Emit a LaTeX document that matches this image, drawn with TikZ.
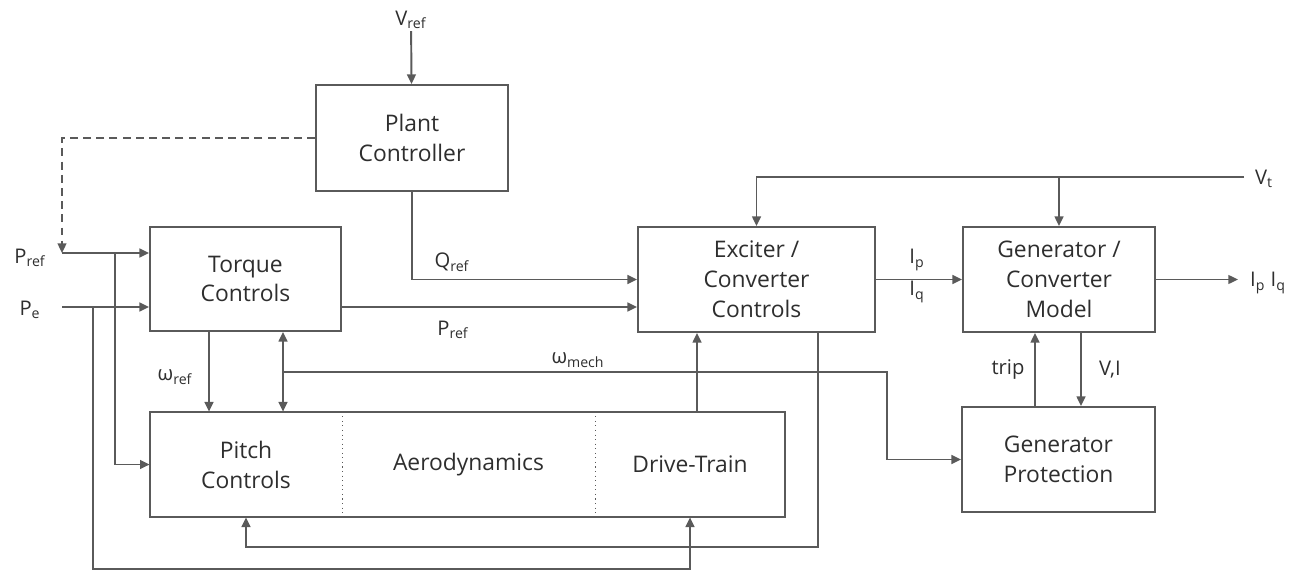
\documentclass[tikz,border=0pt]{standalone}
\usepackage{fontspec}
\setmainfont{Open Sans}
\usetikzlibrary{arrows.meta, positioning, calc}
\definecolor{linegray}{HTML}{5A5A5A}
\definecolor{textgray}{HTML}{2E2E2E}
\newcommand{\lo}[1]{\textsubscript{#1}}
\tikzset{
    block/.style={draw=linegray, line width=1.1pt, fill=white, align=center, text=textgray, font=\fontsize{13}{17}\selectfont, inner sep=2pt},
    cell/.style={align=center, text=textgray, font=\fontsize{13}{17}\selectfont, inner sep=2pt, minimum height=2.1cm},
    arrow/.style={-{Triangle[length=5.5pt, width=5pt]}, line width=1.1pt, linegray},
    dasharrow/.style={arrow, dash pattern=on 4.5pt off 3pt},
    dblarrow/.style={{Triangle[length=5.5pt, width=5pt]}-{Triangle[length=5.5pt, width=5pt]}, line width=1.1pt, linegray},
    lbl/.style={text=textgray, font=\fontsize{11.5}{14}\selectfont, inner sep=1pt}
}

\begin{document}
\begin{tikzpicture}[x=0.02cm, y=-0.02cm]
    \useasboundingbox (0,0) rectangle (1291,571);

    % Define blocks
    \node [block, minimum width=3.84cm, minimum height=2.12cm] (plant) at (412,138) {Plant\\ Controller};
    \node [block, minimum width=3.82cm, minimum height=2.08cm] (torque) at (245.5,279) {Torque\\ Controls};
    \node [block, minimum width=4.74cm, minimum height=2.1cm] (exciter) at (756.5,279.5) {Exciter /\\ Converter\\ Controls};
    \node [block, minimum width=3.84cm, minimum height=2.1cm] (genmod) at (1059,279.5) {Generator /\\ Converter\\ Model};
    \node [block, minimum width=3.86cm, minimum height=2.1cm] (genprot) at (1058.5,459.5) {Generator\\ Protection};

    % Turbine block with three parts
    \node [cell, minimum width=3.84cm] (pitch) at (246,464.5) {Pitch\\ Controls};
    \node [cell, minimum width=5.06cm] (aero) at (468.5,464.5) {Aerodynamics};
    \node [cell, minimum width=3.8cm] (drive) at (690,464.5) {Drive-Train};
    \draw [linegray, line width=1.1pt] (pitch.north west) rectangle (drive.south east);
    \draw [linegray, line width=0.6pt, dotted] (pitch.north east) -- (pitch.south east);
    \draw [linegray, line width=0.6pt, dotted] (aero.north east) -- (aero.south east);

    % Signal labels
    \node [lbl] (vreflbl) at (411,20) {V\lo{ref}};
    \node [lbl] (preflbl) at (30,258) {P\lo{ref}};
    \node [lbl] (pelbl) at (30,310) {P\lo{e}};
    \node [lbl] (qreflbl) at (452,262) {Q\lo{ref}};
    \node [lbl] (pref2lbl) at (453,330) {P\lo{ref}};
    \node [lbl] (wreflbl) at (175,377) {ω\lo{ref}};
    \node [lbl] (wmechlbl) at (578,360) {ω\lo{mech}};
    \node [lbl] (iplbl) at (917,260) {I\lo{p}};
    \node [lbl] (iqlbl) at (917,292) {I\lo{q}};
    \node [lbl] (vtlbl) at (1264,179) {V\lo{t}};
    \node [lbl] (outlbl) at (1268,283) {I\lo{p} I\lo{q}};
    \node [lbl] (triplbl) at (1008,370) {trip};
    \node [lbl] (vilbl) at (1110,370) {V,I};

    % Junction points
    \coordinate (prefin) at (62,253);
    \coordinate (pein) at (62,307);
    \coordinate (prefbr) at (115,253);
    \coordinate (pebr) at (93,307);
    \coordinate (wj) at (283,372);
    \coordinate (vt) at (1244,177);

    % Connectors
    \draw [arrow] (vreflbl) -- (plant);
    \draw [dasharrow] (plant.west) -| (prefin);
    \draw [arrow] (prefin) -- (torque.west |- prefin);
    \draw [arrow] (prefbr) |- (pitch.west);
    \draw [arrow] (pein) -- (torque.west |- pein);
    \draw [arrow] (pebr) -- (93,569) -| (drive.south);
    \draw [arrow] (plant.south) |- (exciter.west);
    \draw [arrow] (torque.east |- pein) -- (exciter.west |- pein);
    \draw [arrow] (209,0 |- torque.south) -- (209,0 |- pitch.north);
    \draw [dblarrow] (283,0 |- torque.south) -- (283,0 |- pitch.north);
    \draw [arrow] (wj) -- (887,372) |- (genprot.west);
    \draw [arrow] (697,0 |- drive.north) -- (697,0 |- exciter.south);
    \draw [arrow] (818,0 |- exciter.south) -- (818,547) -| (pitch.south);
    \draw [arrow] (vt) -| (exciter.north);
    \draw [arrow] (genmod.north |- vt) -- (genmod.north);
    \draw [arrow] (exciter.east) -- (genmod.west);
    \draw [arrow] (genmod.east) -- (1238,0 |- genmod.east);
    \draw [arrow] (1035,0 |- genprot.north) -- (1035,0 |- genmod.south);
    \draw [arrow] (1081,0 |- genmod.south) -- (1081,0 |- genprot.north);
\end{tikzpicture}
\end{document}
